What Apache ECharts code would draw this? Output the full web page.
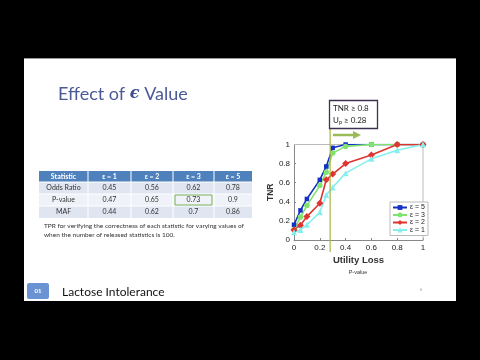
<!DOCTYPE html>
<html><head><meta charset="utf-8">
<script src="https://cdn.jsdelivr.net/npm/echarts@6/dist/echarts.min.js"></script>
<style>html,body{margin:0;padding:0;background:#000;}#c{width:480px;height:360px;}</style>
</head><body><div id="c"></div>
<script>
// ---- data ----
const utilityLoss = [0, 0.05, 0.1, 0.2, 0.25, 0.3, 0.4, 0.6, 0.8, 1];
const tnrEps5 = [0.16, 0.31, 0.43, 0.63, 0.77, 0.965, 1, 1, 1, 1];
const tnrEps3 = [0.11, 0.24, 0.36, 0.57, 0.71, 0.91, 0.98, 1, 1, 1];
const tnrEps2 = [0.105, 0.155, 0.245, 0.385, 0.63, 0.69, 0.80, 0.89, 1, 1];
const tnrEps1 = [0.08, 0.105, 0.16, 0.29, 0.47, 0.55, 0.70, 0.85, 0.94, 1];
const seriesNames = ['ε = 5', 'ε = 3', 'ε = 2', 'ε = 1'];
const thresholdU = 0.28;
const axisTicks = [0, 0.2, 0.4, 0.6, 0.8, 1];

const tableHeader = ['Statistic', 'ε = 1', 'ε = 2', 'ε = 3', 'ε = 5'];
const tableRowNames = ['Odds Ratio', 'P-value', 'MAF'];
const tableOdds = [0.45, 0.56, 0.62, 0.78];
const tablePvalue = [0.47, 0.65, 0.73, 0.9];
const tableMAF = [0.44, 0.62, 0.7, 0.86];

const chart = echarts.init(document.getElementById('c'), null, {renderer: 'canvas'});

function pair(ys) { return utilityLoss.map((x, i) => [x, ys[i]]); }

// ---- table graphics ----
const tbl = [];
const colX = [39, 88, 131, 173, 214, 252];
const rowY = [171, 182, 194, 206, 218];
const rowFill = ['#4f81bd', '#dfe6f1', '#eff3f9', '#dfe6f1'];
const tableRows = [tableOdds, tablePvalue, tableMAF];
for (let r = 0; r < 4; r++) {
  tbl.push({type: 'rect', shape: {x: colX[0], y: rowY[r], width: colX[5] - colX[0], height: rowY[r + 1] - rowY[r]},
    style: {fill: rowFill[r]}, silent: true});
}
for (let c = 1; c < 5; c++) {
  tbl.push({type: 'line', shape: {x1: colX[c], y1: rowY[0], x2: colX[c], y2: rowY[4]}, style: {stroke: '#ffffff', lineWidth: 1}});
}
for (let r = 1; r < 4; r++) {
  tbl.push({type: 'line', shape: {x1: colX[0], y1: rowY[r], x2: colX[5], y2: rowY[r]}, style: {stroke: '#ffffff', lineWidth: 1}});
}
for (let c = 0; c < 5; c++) {
  tbl.push({type: 'text', x: (colX[c] + colX[c + 1]) / 2, y: (rowY[0] + rowY[1]) / 2,
    style: {text: tableHeader[c], fill: '#ffffff', font: 'bold 7px Lato', align: 'center', verticalAlign: 'middle'}});
}
for (let r = 0; r < 3; r++) {
  const cy = (rowY[r + 1] + rowY[r + 2]) / 2;
  tbl.push({type: 'text', x: (colX[0] + colX[1]) / 2, y: cy,
    style: {text: tableRowNames[r], fill: '#333', font: '7px Lato', align: 'center', verticalAlign: 'middle'}});
  for (let c = 0; c < 4; c++) {
    tbl.push({type: 'text', x: (colX[c + 1] + colX[c + 2]) / 2, y: cy,
      style: {text: String(tableRows[r][c]), fill: '#333', font: '7px Lato', align: 'center', verticalAlign: 'middle'}});
  }
}
// highlighted cell (P-value, ε = 3)
tbl.push({type: 'rect', shape: {x: colX[3] + 2, y: rowY[2] + 1, width: colX[4] - colX[3] - 4, height: rowY[3] - rowY[2] - 2},
  style: {fill: 'none', stroke: '#77b255', lineWidth: 1}});

const option = {
  backgroundColor: '#000',
  animation: false,
  textStyle: {fontFamily: 'Liberation Sans'},
  grid: {left: 294, right: 57, top: 144.5, bottom: 120, containLabel: false, show: false},
  xAxis: {
    type: 'value', min: 0, max: 1, interval: 0.2,
    name: 'Utility Loss', nameLocation: 'middle', nameGap: 15,
    nameTextStyle: {fontSize: 9.5, fontWeight: 'bold', color: '#333', fontFamily: 'Liberation Sans'},
    axisLine: {show: true, onZero: false, lineStyle: {color: '#888', width: 1}},
    axisTick: {show: true, inside: true, length: 2, lineStyle: {color: '#888'}},
    axisLabel: {fontSize: 8, color: '#222', margin: 4, formatter: v => String(+v.toFixed(1))},
    splitLine: {show: false}
  },
  yAxis: {
    type: 'value', min: 0, max: 1, interval: 0.2,
    name: 'TNR', nameLocation: 'middle', nameGap: 14, nameRotate: 90,
    nameTextStyle: {fontSize: 8.5, fontWeight: 'bold', color: '#333', fontFamily: 'Liberation Sans'},
    axisLine: {show: true, onZero: false, lineStyle: {color: '#888', width: 1}},
    axisTick: {show: true, inside: true, length: 2, lineStyle: {color: '#888'}},
    axisLabel: {fontSize: 8, color: '#222', margin: 4, formatter: v => String(+v.toFixed(1))},
    splitLine: {show: false}
  },
  legend: {
    orient: 'vertical', left: 390, top: 202, itemGap: 0.5, itemWidth: 14, itemHeight: 6,
    padding: [2, 3, 2, 2], backgroundColor: '#fff', borderColor: '#bbb', borderWidth: 1, borderRadius: 0,
    textStyle: {fontSize: 7, color: '#222', padding: [0, 0, 0, -2]},
    data: seriesNames
  },
  series: [
    {name: seriesNames[0], type: 'line', data: pair(tnrEps5), symbol: 'rect', symbolSize: 4.5,
      itemStyle: {color: '#1530c4'}, lineStyle: {width: 1.6, color: '#1530c4'}},
    {name: seriesNames[1], type: 'line', data: pair(tnrEps3), symbol: 'circle', symbolSize: 5.5,
      itemStyle: {color: '#7fe36d'}, lineStyle: {width: 1.6, color: '#7fe36d'}},
    {name: seriesNames[2], type: 'line', data: pair(tnrEps2), symbol: 'diamond', symbolSize: 7,
      itemStyle: {color: '#df3430'}, lineStyle: {width: 1.6, color: '#df3430'}},
    {name: seriesNames[3], type: 'line', data: pair(tnrEps1), symbol: 'triangle', symbolSize: 6,
      itemStyle: {color: '#86eef0'}, lineStyle: {width: 1.6, color: '#86eef0'}}
  ],
  graphic: []
};
chart.setOption(option);

// plot frame and threshold line positioned through the axes
const x0 = chart.convertToPixel({xAxisIndex: 0}, 0);
const x1 = chart.convertToPixel({xAxisIndex: 0}, 1);
const y0 = chart.convertToPixel({yAxisIndex: 0}, 0);
const y1 = chart.convertToPixel({yAxisIndex: 0}, 1);
const xt = chart.convertToPixel({xAxisIndex: 0}, thresholdU);

const deco = [
  // slide
  {type: 'rect', z: -10, shape: {x: 24, y: 58, width: 432, height: 243}, style: {fill: '#ffffff'}, silent: true},
  {type: 'line', z: -9, shape: {x1: 24, y1: 58.5, x2: 456, y2: 58.5}, style: {stroke: '#9a9a9a', lineWidth: 1}},
  // title
  {type: 'text', x: 58, y: 94, style: {rich: {
      a: {font: '18px Lato', fill: '#4a5a96'},
      e: {font: 'bold italic 16px "DejaVu Serif"', fill: '#3f4f90'}
    }, text: '{a|Effect of }{e|ϵ}{a| Value}', verticalAlign: 'middle'}},
  // caption
  {type: 'text', x: 44, y: 226, style: {text: 'TPR for verifying the correctness of each statistic for varying values of', fill: '#333', font: '6.5px Lato', verticalAlign: 'middle'}},
  {type: 'text', x: 44, y: 235, style: {text: 'when the number of released statistics is 100.', fill: '#333', font: '6.5px Lato', verticalAlign: 'middle'}},
  // footer
  {type: 'rect', shape: {x: 27, y: 283, width: 22, height: 16, r: 2}, style: {fill: '#6a93d4'}},
  {type: 'text', x: 38, y: 291, style: {text: '01', fill: '#ffffff', font: 'bold 6px Lato', align: 'center', verticalAlign: 'middle'}},
  {type: 'text', x: 62, y: 292, style: {text: 'Lactose Intolerance', fill: '#111', font: '12px Lato', verticalAlign: 'middle'}},
  {type: 'text', x: 421, y: 290, style: {text: '8', fill: '#aaa', font: '4px Lato', align: 'center', verticalAlign: 'middle'}},
  {type: 'text', x: 358, y: 272, style: {text: 'P-value', fill: '#333', font: '5.5px Liberation Sans', align: 'center', verticalAlign: 'middle'}},
  // plot frame (top and right)
  {type: 'polyline', z: 1, shape: {points: [[x0, y1], [x1, y1], [x1, y0]]}, style: {stroke: '#bbb', lineWidth: 1, fill: 'none'}},
  // threshold vertical line
  {type: 'line', z: 5, shape: {x1: xt, y1: 128, x2: xt, y2: 252}, style: {stroke: '#a9b43c', lineWidth: 1.2}},
  // annotation box
  {type: 'rect', z: 6, shape: {x: 329.5, y: 100.5, width: 48, height: 28}, style: {fill: '#fff', stroke: '#3f3151', lineWidth: 1.3}},
  {type: 'text', z: 7, x: 333, y: 108, style: {text: 'TNR ≥ 0.8', fill: '#222', font: '8px Lato', verticalAlign: 'middle'}},
  {type: 'text', z: 7, x: 333, y: 120, style: {rich: {a: {font: '8px Lato', fill: '#222'}, s: {font: '5.5px Lato', fill: '#222', verticalAlign: 'bottom', padding: [4, 0, 0, 0]}}, text: '{a|U}{s|p}{a| ≥ 0.28}', verticalAlign: 'middle'}},
  // green arrow
  {type: 'line', z: 6, shape: {x1: 333, y1: 135, x2: 354, y2: 135}, style: {stroke: '#9bbb59', lineWidth: 2.5}},
  {type: 'polygon', z: 6, shape: {points: [[353, 131], [361, 135], [353, 139]]}, style: {fill: '#9bbb59'}}
].concat(tbl);
chart.setOption({graphic: deco});
</script></body></html>
